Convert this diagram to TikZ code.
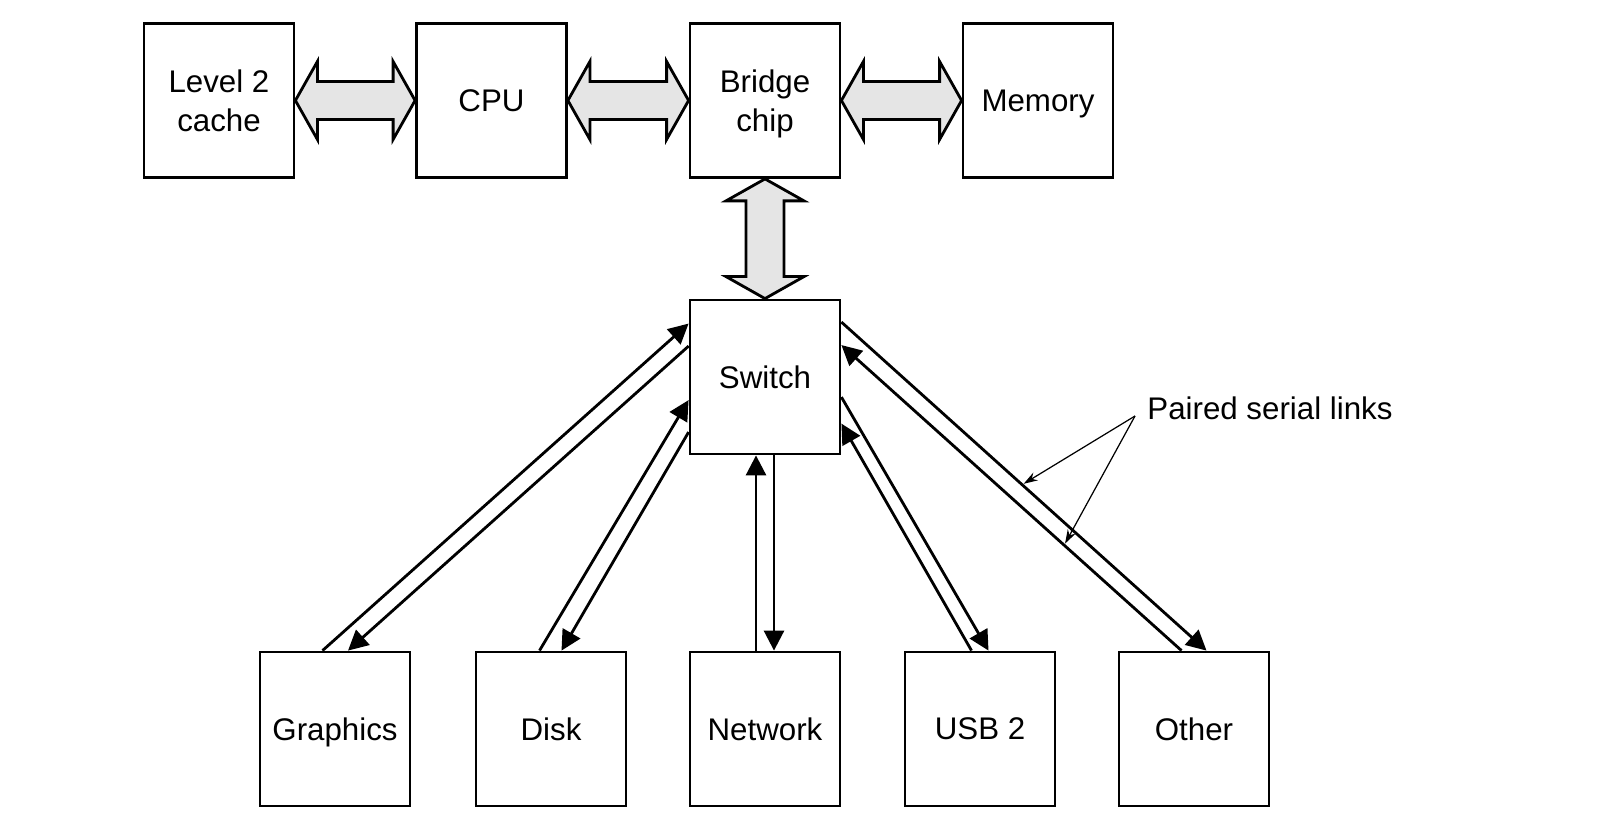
\documentclass[tikz,border=0pt]{standalone}
\usepackage{fontspec}
\setmainfont{Liberation Sans}
\usepackage {tikz}
\usetikzlibrary {positioning,calc,arrows.meta}
\definecolor {busgray}{gray}{0.9}

\begin{document}
\begin{tikzpicture}[line width=1.6pt]
  \tikzstyle{unit}=[rectangle, draw, minimum width=3cm, minimum height=3.08cm,
align=center, inner sep=0pt, text depth=0pt, font=\fontsize{17.8}{22}\selectfont]
  \tikzstyle{link}=[-{Triangle[length=0.4cm,width=0.4cm]}]
  \tikzstyle{pointer}=[line width=0.7pt, -{Stealth[length=0.28cm,width=0.18cm]}, shorten >=1pt]
  \tikzstyle{bus}=[draw, fill=busgray, line join=miter, to path={
 -- ($(\tikztostart)!0.44cm!(\tikztotarget)!0.78cm!90:(\tikztotarget)$)
 -- ($(\tikztostart)!0.44cm!(\tikztotarget)!0.38cm!90:(\tikztotarget)$)
 -- ($(\tikztotarget)!0.44cm!(\tikztostart)!0.38cm!-90:(\tikztostart)$)
 -- ($(\tikztotarget)!0.44cm!(\tikztostart)!0.78cm!-90:(\tikztostart)$)
 -- (\tikztotarget)
 -- ($(\tikztotarget)!0.44cm!(\tikztostart)!0.78cm!90:(\tikztostart)$)
 -- ($(\tikztotarget)!0.44cm!(\tikztostart)!0.38cm!90:(\tikztostart)$)
 -- ($(\tikztostart)!0.44cm!(\tikztotarget)!0.38cm!-90:(\tikztotarget)$)
 -- ($(\tikztostart)!0.44cm!(\tikztotarget)!0.78cm!-90:(\tikztotarget)$)
 -- cycle}]
  \useasboundingbox (0,0) rectangle (32.02,16.34);

  \node[unit] (cache) at (4.38,14.33)  {Level 2\\cache};
  \node[unit] (cpu) at (9.83,14.33)  {CPU};
  \node[unit] (bridge) at (15.3,14.33)  {Bridge\\chip};
  \node[unit] (mem) at (20.76,14.33)  {Memory};
  \node[unit] (sw) at (15.3,8.8)  {Switch};
  \node[unit] (gfx) at (6.7,1.76)  {Graphics};
  \node[unit] (disk) at (11.02,1.76)  {Disk};
  \node[unit] (net) at (15.3,1.76)  {Network};
  \node[unit] (usb) at (19.6,1.76)  {USB 2};
  \node[unit] (other) at (23.88,1.76)  {Other};
  \node[anchor=base west, inner sep=0pt, font=\fontsize{17.8}{22}\selectfont] (lbl) at (22.92,7.95) {Paired serial links};

  \draw[bus] (cache.east) to (cpu.west);
  \draw[bus] (cpu.east) to (bridge.west);
  \draw[bus] (bridge.east) to (mem.west);
  \draw[bus] (bridge.south) to (sw.north);

  \draw[link] ([xshift=-0.25cm]gfx.north) -- ([yshift=-0.5cm]sw.north west);
  \draw[link] ([yshift=-0.95cm]sw.north west) -- ([xshift=0.26cm]gfx.north);
  \draw[link] ([xshift=-0.23cm]disk.north) -- ([yshift=-2.03cm]sw.north west);
  \draw[link] ([yshift=-2.67cm]sw.north west) -- ([xshift=0.21cm]disk.north);
  \draw[link] ([xshift=-0.18cm]net.north) -- ([xshift=-0.18cm]sw.south);
  \draw[link] ([xshift=0.18cm]sw.south) -- ([xshift=0.18cm]net.north);
  \draw[link] ([xshift=-0.17cm]usb.north) -- ([yshift=-2.5cm]sw.north east);
  \draw[link] ([yshift=-1.97cm]sw.north east) -- ([xshift=0.17cm]usb.north);
  \draw[link] ([xshift=-0.25cm]other.north) -- coordinate[pos=0.345] (m2) ([yshift=-0.93cm]sw.north east);
  \draw[link] ([yshift=-0.47cm]sw.north east) -- coordinate[pos=0.495] (m1) ([xshift=0.25cm]other.north);

  \coordinate (ptr) at ([xshift=-0.22cm,yshift=0.07cm]lbl.base west);
  \draw[pointer] (ptr) -- (m1);
  \draw[pointer] (ptr) -- (m2);
\end{tikzpicture}
\end{document}
